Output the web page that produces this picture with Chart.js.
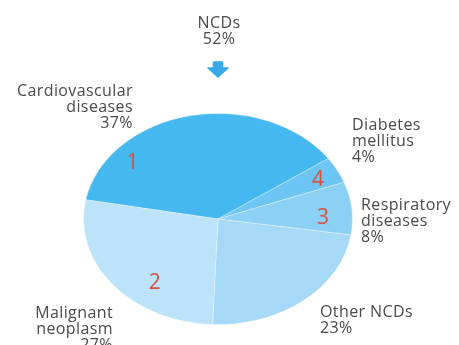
<!DOCTYPE html>
<html>
<head>
<meta charset="utf-8">
<script src="https://cdn.jsdelivr.net/npm/chart.js@4"></script>
<style>
  html, body { margin: 0; padding: 0; background: #fff; }
  #wrap { width: 459px; height: 345px; }
  #ncd { filter: blur(0.4px); }
</style>
</head>
<body>
<div id="wrap"><canvas id="ncd" width="459" height="345"></canvas></div>
<script>
// ─── DATA ────────────────────────────────────────────
const groupName = 'NCDs';
const groupShare = 52;
const categories = ['Cardiovascular\ndiseases', 'Diabetes\nmellitus', 'Respiratory\ndiseases', 'Other NCDs', 'Malignant\nneoplasm'];
const shares = [37, 4, 8, 23, 27];
const sliceNumbers = ['1', '4', '3', '', '2'];

// ─── STYLE ───────────────────────────────────────────
const sliceColors = ['#45B8F0', '#6CC5F3', '#8DD0F5', '#A6D9F8', '#BDE3FA'];
const TEXT_FONT = '16px "Open Sans", sans-serif';
const NUM_FONT = '21px "Open Sans", sans-serif';
const PIE_CY = 219;     // screen y of pie centre
const SQUASH = 0.785;   // vertical flattening of the pie

// where each category label sits: anchor x, first baseline, alignment
const labelLayout = [
  { x: 133, y: 96,  align: 'right' },
  { x: 352, y: 130, align: 'left' },
  { x: 361, y: 210, align: 'left' },
  { x: 320, y: 317, align: 'left' },
  { x: 113, y: 318, align: 'right' }
];
// slice number: fraction along the arc, fraction of radius
const numberSpot = [
  { t: 0.22, r: 0.83 },
  { t: 0.59, r: 0.83 },
  { t: 0.68, r: 0.78 },
  null,
  { t: 0.36, r: 0.77 }
];
const LINE_H = 16;

// ─── PLUGINS ─────────────────────────────────────────
const squashPie = {
  id: 'squashPie',
  beforeDatasetsDraw(chart) {
    const { ctx, chartArea } = chart;
    const cy = (chartArea.top + chartArea.bottom) / 2;
    ctx.save();
    ctx.translate(0, PIE_CY);
    ctx.scale(1, SQUASH);
    ctx.translate(0, -cy);
  },
  afterDatasetsDraw(chart) {
    chart.ctx.restore();
  }
};

function drawArrow(ctx, cx, top) {
  ctx.save();
  ctx.fillStyle = '#38A9E8';
  ctx.lineJoin = 'round';
  ctx.strokeStyle = '#38A9E8';
  ctx.lineWidth = 1.5;
  ctx.beginPath();
  ctx.moveTo(cx - 4.5, top);
  ctx.lineTo(cx + 4.5, top);
  ctx.lineTo(cx + 4.5, top + 6);
  ctx.lineTo(cx + 10, top + 6);
  ctx.lineTo(cx, top + 15);
  ctx.lineTo(cx - 10, top + 6);
  ctx.lineTo(cx - 4.5, top + 6);
  ctx.closePath();
  ctx.fill();
  ctx.stroke();
  ctx.restore();
}

const annotations = {
  id: 'annotations',
  afterDraw(chart) {
    const { ctx, chartArea } = chart;
    const cyCircle = (chartArea.top + chartArea.bottom) / 2;
    ctx.save();
    ctx.font = TEXT_FONT;
    ctx.letterSpacing = '0.4px';
    ctx.fillStyle = '#4A4A4A';
    ctx.textBaseline = 'alphabetic';

    // group heading above the pie
    ctx.textAlign = 'center';
    ctx.fillText(groupName, 219, 28);
    ctx.fillText(groupShare + '%', 219, 44);
    drawArrow(ctx, 218, 62);

    // category labels
    categories.forEach((name, i) => {
      const pos = labelLayout[i];
      const lines = name.split('\n').concat(shares[i] + '%');
      ctx.textAlign = pos.align;
      lines.forEach((ln, j) => ctx.fillText(ln, pos.x, pos.y + j * LINE_H));
    });

    // red slice numbers, placed from the arc geometry
    ctx.font = NUM_FONT;
    ctx.letterSpacing = '0px';
    ctx.fillStyle = '#D4523F';
    ctx.textAlign = 'center';
    ctx.textBaseline = 'middle';
    const arcs = chart.getDatasetMeta(0).data;
    arcs.forEach((arc, i) => {
      const spot = numberSpot[i];
      if (!spot || !sliceNumbers[i]) return;
      const { x, y, startAngle, endAngle, outerRadius } = arc.getProps(['x', 'y', 'startAngle', 'endAngle', 'outerRadius'], true);
      const a = startAngle + (endAngle - startAngle) * spot.t;
      const px = x + Math.cos(a) * outerRadius * spot.r;
      const py = PIE_CY + (y - cyCircle + Math.sin(a) * outerRadius * spot.r) * SQUASH;
      ctx.fillText(sliceNumbers[i], px, py);
    });
    ctx.restore();
  }
};

// ─── CHART ───────────────────────────────────────────
new Chart(document.getElementById('ncd').getContext('2d'), {
  type: 'pie',
  data: {
    labels: categories,
    datasets: [{
      data: shares,
      backgroundColor: sliceColors,
      borderColor: 'rgba(255,255,255,0.35)',
      borderWidth: 1,
      clip: false
    }]
  },
  options: {
    responsive: false,
    animation: false,
    events: [],
    rotation: 280.5,
    layout: { padding: { left: 83, right: 106, top: 0, bottom: 0 } },
    plugins: {
      legend: { display: false },
      tooltip: { enabled: false }
    }
  },
  plugins: [squashPie, annotations]
});
</script>
</body>
</html>
